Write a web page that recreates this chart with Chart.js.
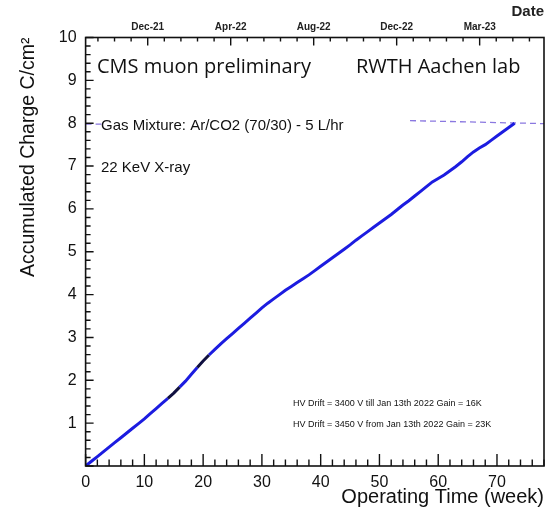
<!DOCTYPE html>
<html>
<head>
<meta charset="utf-8">
<script src="https://cdn.jsdelivr.net/npm/chart.js@4/dist/chart.umd.min.js"></script>
<style>
html,body{margin:0;padding:0;background:#fff;}
canvas{display:block;}
</style>
</head>
<body>
<canvas id="c" width="547" height="510"></canvas>
<script>
// ---- data ----
const weeks = [0,1,2,3,4,5,6,7,8,9,10,11,12,13,14,15,16,17,18,19,20,21,22,23,24,25,26,27,28,29,30,31,32,33,34,35,36,37,38,39,40,41,42,43,44,45,46,47,48,49,50,51,52,53,54,55,56,57,58,59,60,61,62,63,64,65,66,67,68,69,70,71,72,73];
const charge = [0.00,0.11,0.22,0.33,0.44,0.55,0.66,0.77,0.88,0.99,1.10,1.22,1.34,1.46,1.58,1.70,1.84,1.98,2.14,2.30,2.45,2.59,2.72,2.85,2.97,3.09,3.21,3.33,3.45,3.57,3.69,3.80,3.90,4.00,4.10,4.19,4.28,4.37,4.46,4.56,4.66,4.76,4.86,4.96,5.06,5.16,5.27,5.37,5.47,5.57,5.67,5.77,5.87,5.98,6.09,6.19,6.30,6.41,6.52,6.63,6.71,6.79,6.89,6.99,7.10,7.22,7.33,7.42,7.50,7.60,7.70,7.80,7.90,8.00];
const darkSegments = [[14,16],[19,21]];
const refLineLeftX = [0, 2.7];
const refLineLeftY = [7.98, 7.98];
const refLineRightX = [55.2, 78];
const refLineRightY = [8.06, 7.99];
const xTickValues = [0,10,20,30,40,50,60,70];
const yTickValues = [1,2,3,4,5,6,7,8,9,10];
const topTickWeeks = [10.57, 24.69, 38.81, 52.93, 67.07];
const topTickLabels = ["Dec-21","Apr-22","Aug-22","Dec-22","Mar-23"];

const SANS = "'Liberation Sans', Arial, sans-serif";
const BLUE = "#1c1ce0";

function pts(xs, ys){ return xs.map((x,i)=>({x:x, y:ys[i]})); }

const frameAndText = {
  id: 'frameAndText',
  afterDatasetsDraw(chart){
    const ctx = chart.ctx, a = chart.chartArea;
    const xs = chart.scales.x, ys = chart.scales.y, xt = chart.scales.x2;
    ctx.save();
    ctx.strokeStyle = '#111';
    ctx.lineWidth = 1.4;
    ctx.beginPath();
    for (let v = 0; v <= 78; v += 2) {
      const px = xs.getPixelForValue(v);
      const len = (v % 10 === 0) ? 12 : 6.5;
      ctx.moveTo(px, a.bottom); ctx.lineTo(px, a.bottom - len);
    }
    for (let i = 0; i <= 50; i++) {
      const v = i / 5;
      const py = ys.getPixelForValue(v);
      const len = (i % 5 === 0) ? 8 : 5;
      ctx.moveTo(a.left, py); ctx.lineTo(a.left + len, py);
    }
    const step = (topTickWeeks[1] - topTickWeeks[0]) / 5;
    for (let k = -5; k <= 30; k++) {
      const v = topTickWeeks[0] + k * step;
      if (v <= 0.5 || v >= 77.8) continue;
      const px = xt.getPixelForValue(v);
      const len = (k % 5 === 0) ? 8 : 4;
      ctx.moveTo(px, a.top); ctx.lineTo(px, a.top + len);
    }
    ctx.stroke();
    ctx.lineWidth = 1.6;
    ctx.strokeRect(a.left, a.top, a.right - a.left, a.bottom - a.top);

    ctx.fillStyle = '#111';
    ctx.textBaseline = 'middle';
    ctx.textAlign = 'left';
    const T = (txt, wx, wy, font) => {
      ctx.font = font;
      ctx.fillText(txt, xs.getPixelForValue(wx), ys.getPixelForValue(wy));
    };
    T('CMS muon preliminary', 1.94, 9.31, "20px 'Open Sans', 'Noto Sans', sans-serif");
    T('RWTH Aachen lab', 46.0, 9.31, "20px 'Open Sans', 'Noto Sans', sans-serif");
    T('Gas Mixture: Ar/CO2 (70/30) - 5 L/hr', 2.62, 7.93, "15px " + SANS);
    T('22 KeV X-ray', 2.62, 6.95, "15px " + SANS);
    T('HV Drift = 3400 V till Jan 13th 2022 Gain = 16K', 35.3, 1.45, "9px " + SANS);
    T('HV Drift = 3450 V from Jan 13th 2022 Gain = 23K', 35.3, 0.96, "9px " + SANS);
    ctx.restore();
  }
};

new Chart(document.getElementById('c'), {
  type: 'line',
  data: {
    datasets: [
      {
        data: pts(weeks, charge),
        borderColor: BLUE,
        borderWidth: 3,
        pointRadius: 0,
        tension: 0,
        segment: {
          borderColor: c => darkSegments.some(s => c.p0DataIndex >= s[0] && c.p0DataIndex < s[1]) ? '#101040' : BLUE
        }
      },
      {
        data: pts(refLineLeftX, refLineLeftY),
        borderColor: '#8a78e0', borderWidth: 1.3, borderDash: [6,4], pointRadius: 0
      },
      {
        data: pts(refLineRightX, refLineRightY),
        borderColor: '#8a78e0', borderWidth: 1.3, borderDash: [6,4], pointRadius: 0
      }
    ]
  },
  options: {
    responsive: false,
    animation: false,
    devicePixelRatio: 1,
    layout: { padding: { left: 0, right: 3, top: 0, bottom: 0 } },
    plugins: { legend: { display: false }, tooltip: { enabled: false } },
    scales: {
      x: {
        type: 'linear', position: 'bottom', min: 0, max: 78,
        grid: { display: false }, border: { display: false },
        afterBuildTicks: s => { s.ticks = xTickValues.map(v => ({ value: v })); },
        afterFit: s => { s.height = 44; },
        ticks: { autoSkip: false, maxRotation: 0, padding: -1, color: '#111', font: { family: SANS, size: 16 } },
        title: { display: true, text: 'Operating Time (week)', align: 'end', color: '#111',
                 font: { family: SANS, size: 20 }, padding: { top: 0, bottom: 1 } }
      },
      x2: {
        type: 'linear', position: 'top', min: 0, max: 78,
        grid: { display: false }, border: { display: false },
        afterBuildTicks: s => { s.ticks = topTickWeeks.map(v => ({ value: v })); },
        afterFit: s => { s.height = 37.5; },
        ticks: { autoSkip: false, maxRotation: 0, padding: -3.5, color: '#222',
                 font: { family: SANS, size: 10, weight: 'bold' },
                 callback: (v, i) => topTickLabels[i] },
        title: { display: true, text: 'Date', align: 'end', color: '#222',
                 font: { family: SANS, size: 15, weight: 'bold' }, padding: { top: 3, bottom: 0 } }
      },
      y: {
        type: 'linear', position: 'left', min: 0, max: 10,
        grid: { display: false }, border: { display: false },
        afterBuildTicks: s => { s.ticks = yTickValues.map(v => ({ value: v })); },
        afterFit: s => { s.width = 85.6; },
        ticks: { autoSkip: false, padding: 1, color: '#111', font: { family: SANS, size: 16 } },
        title: { display: true, text: 'Accumulated Charge C/cm²', align: 'end', color: '#111',
                 font: { family: SANS, size: 19.5 }, padding: { top: 17.4, bottom: 0 } }
      }
    }
  },
  plugins: [frameAndText]
});
</script>
</body>
</html>
